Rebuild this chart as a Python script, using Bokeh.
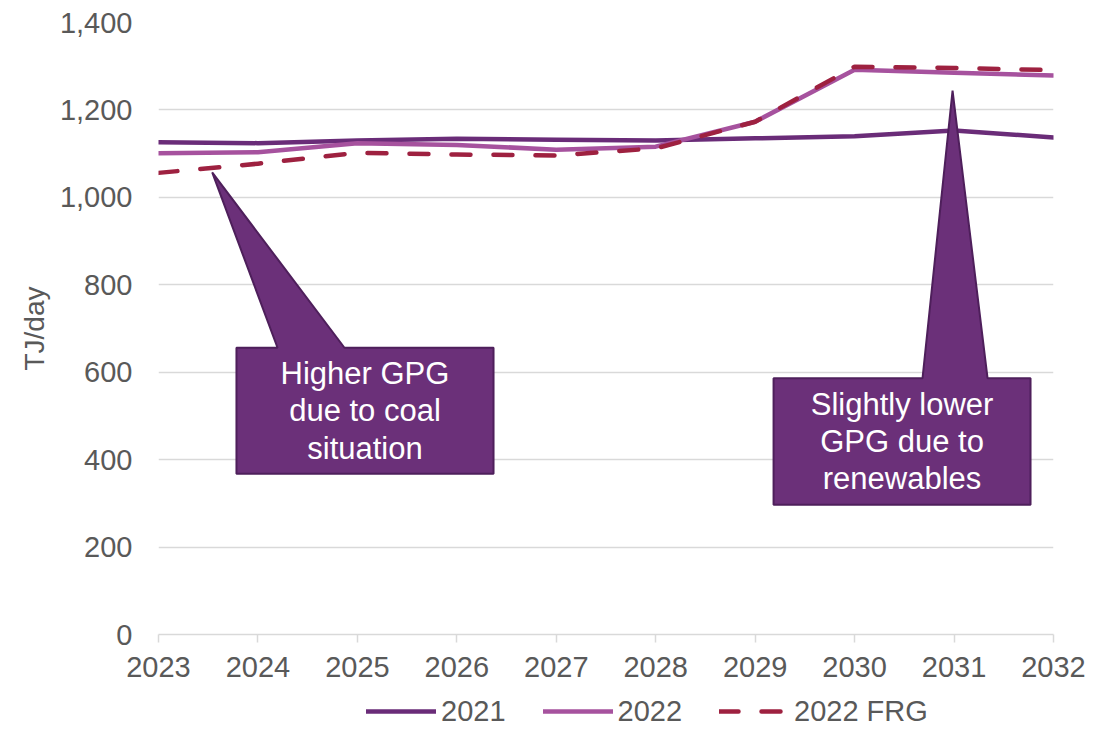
from bokeh.plotting import figure
from bokeh.layouts import column
from bokeh.models import (Range1d, FixedTicker, NumeralTickFormatter, Legend, LegendItem)
from bokeh.core.properties import value
from bokeh.embed import file_html
from bokeh.resources import INLINE

# ---- data ----
years = [2023, 2024, 2025, 2026, 2027, 2028, 2029, 2030, 2031, 2032]
gpg_2021 = [1126, 1124, 1130, 1134, 1132, 1130, 1135, 1140, 1153, 1137]
gpg_2022 = [1101, 1103, 1124, 1120, 1109, 1116, 1173, 1292, 1285, 1279]
gpg_2022_frg = [1056, 1077, 1102, 1098, 1096, 1112, 1173, 1299, 1296, 1291]
series_names = ["2021", "2022", "2022 FRG"]
y_ticks = [0, 200, 400, 600, 800, 1000, 1200, 1400]

# callouts (data units): tip point, pointer base x's, box left/right/top/bottom
callout_texts = ["Higher GPG\ndue to coal\nsituation", "Slightly lower\nGPG due to\nrenewables"]
callout_tip_x = [2023.54, 2030.985]
callout_tip_y = [1057, 1244]
callout_base_x0 = [2024.197, 2030.683]
callout_base_x1 = [2024.870, 2031.337]
callout_left = [2023.784, 2029.185]
callout_right = [2026.369, 2031.769]
callout_top = [656, 586]
callout_bottom = [368, 297]

FONT = "Liberation Sans"
C2021 = "#6a2c78"
C2022 = "#a6529e"
CFRG = "#9e2140"
TXT = "#595959"
GRID = "#d9d9d9"
LINE_STYLES = [dict(line_color=C2021, line_width=4.5, line_cap="round", line_join="round"),
               dict(line_color=C2022, line_width=4.5, line_cap="round", line_join="round"),
               dict(line_color=CFRG, line_width=4.5, line_dash="19 23", line_cap="round",
                    line_join="round")]
SERIES = [gpg_2021, gpg_2022, gpg_2022_frg]

p = figure(width=1098, height=694, output_backend="svg", toolbar_location=None,
           x_range=Range1d(2023, 2032), y_range=Range1d(0, 1400),
           min_border_left=158, min_border_right=45, min_border_top=22, min_border_bottom=60)
p.outline_line_color = None
p.background_fill_color = "white"
p.border_fill_color = "white"

p.xgrid.grid_line_color = None
p.ygrid.grid_line_color = GRID
p.ygrid.grid_line_width = 1.5
p.ygrid.ticker = FixedTicker(ticks=y_ticks)

# x axis
xa = p.xaxis[0]
xa.ticker = FixedTicker(ticks=years)
xa.axis_line_color = GRID
xa.axis_line_width = 1.5
xa.major_tick_line_color = GRID
xa.major_tick_line_width = 1.5
xa.major_tick_out = 8
xa.major_tick_in = 0
xa.minor_tick_line_color = None
xa.major_label_text_font = FONT
xa.major_label_text_font_size = "29px"
xa.major_label_text_color = TXT
xa.major_label_standoff = 14

# y axis
ya = p.yaxis[0]
ya.ticker = FixedTicker(ticks=y_ticks)
ya.formatter = NumeralTickFormatter(format="0,0")
ya.axis_line_color = None
ya.major_tick_line_color = None
ya.minor_tick_line_color = None
ya.major_tick_out = 0
ya.major_label_text_font = FONT
ya.major_label_text_font_size = "29px"
ya.major_label_text_color = TXT
ya.major_label_standoff = 26
ya.axis_label = "TJ/day"
ya.axis_label_text_font = FONT
ya.axis_label_text_font_size = "28px"
ya.axis_label_text_font_style = "normal"
ya.axis_label_text_color = TXT
ya.axis_label_standoff = 7

# lines
for vals, st in zip(SERIES, LINE_STYLES):
    p.line(years, vals, **st)

# callouts
for i in range(len(callout_texts)):
    xs = [callout_left[i], callout_base_x0[i], callout_tip_x[i], callout_base_x1[i],
          callout_right[i], callout_right[i], callout_left[i]]
    ys = [callout_top[i], callout_top[i], callout_tip_y[i], callout_top[i],
          callout_top[i], callout_bottom[i], callout_bottom[i]]
    p.patch(xs, ys, fill_color="#6b3079", line_color="#4e1f5b", line_width=2)
    p.text(x=[(callout_left[i] + callout_right[i]) / 2],
           y=[(callout_top[i] + callout_bottom[i]) / 2],
           text=[callout_texts[i]], text_align="center", text_baseline="middle",
           text_font=value(FONT), text_font_size="31px", text_color="white",
           text_line_height=1.07)

# legend strip below the chart (its lines lie outside its visible range)
lg = figure(width=1098, height=34, output_backend="svg", toolbar_location=None,
            x_range=Range1d(2023, 2032), y_range=Range1d(0, 1),
            min_border_left=158, min_border_right=45, min_border_top=0, min_border_bottom=0)
lg.axis.visible = False
lg.grid.visible = False
lg.outline_line_color = None
lg.background_fill_color = "white"
lg.border_fill_color = "white"
items = []
for name, vals, st in zip(series_names, SERIES, LINE_STYLES):
    r = lg.line(years, vals, **st)
    items.append(LegendItem(label=name, renderers=[r]))
legend = Legend(items=items, orientation="horizontal", location=(208, 0),
                label_text_font=FONT, label_text_font_size="29px", label_text_color=TXT,
                glyph_width=70, glyph_height=34, label_standoff=5, spacing=37,
                padding=0, margin=0, border_line_color=None, background_fill_alpha=0)
lg.add_layout(legend, "center")

layout = column(p, lg, spacing=0)
open("out.html", "w").write(file_html(layout, INLINE))
